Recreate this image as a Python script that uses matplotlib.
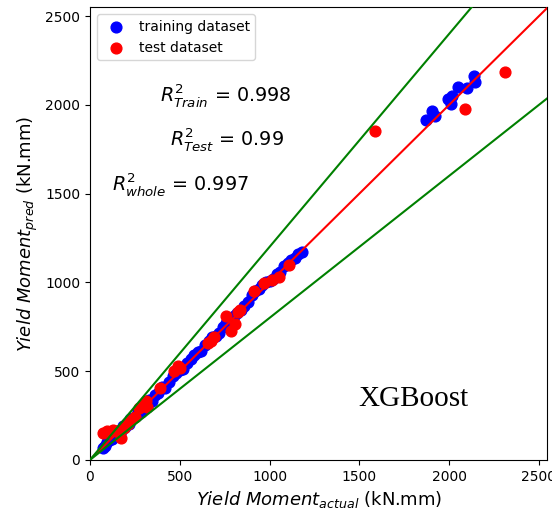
import matplotlib
matplotlib.use("Agg")
import matplotlib.pyplot as plt
import numpy as np

# training dataset (actual, predicted)
train_actual = [70, 85, 95, 105, 115, 125, 135, 145, 155, 165, 175, 185, 195, 205, 215,
                225, 240, 255, 270, 285, 300, 315, 330, 345, 360, 380, 400, 420, 440, 460,
                480, 500, 520, 540, 560, 580, 600, 620, 640, 660, 680, 700, 720, 740, 760,
                780, 800, 820, 840, 860, 880, 900, 920, 940, 960, 980, 1000, 1020, 1040,
                1060, 1080, 1100, 1120, 1140, 1160, 1180,
                1871, 1907, 1922, 1991, 2018, 2013, 2052, 2102, 2139, 2144]
train_pred = [65, 80, 100, 110, 120, 118, 140, 150, 150, 170, 165, 190, 185, 210, 205,
              230, 235, 250, 280, 270, 310, 300, 340, 330, 365, 375, 410, 405, 440, 470,
              490, 505, 510, 545, 570, 590, 605, 615, 650, 670, 690, 700, 715, 750, 770,
              790, 810, 830, 845, 865, 890, 930, 950, 960, 985, 1000, 1010, 1020, 1045,
              1060, 1090, 1110, 1125, 1140, 1160, 1170,
              1913, 1964, 1938, 2031, 2052, 2004, 2102, 2097, 2165, 2131]

# test dataset (actual, predicted)
test_actual = [72, 95, 110, 130, 150, 175, 190, 210, 230, 250, 275, 300, 310, 320, 390,
               470, 490, 500, 655, 675, 690, 760, 787, 806, 825, 835, 915, 970, 1012,
               1055, 1110, 1585, 2090, 2310]
test_pred = [150, 160, 155, 170, 165, 125, 180, 205, 225, 240, 290, 310, 330, 300, 405,
             500, 530, 515, 660, 670, 690, 810, 726, 764, 835, 843, 950, 995, 1014,
             1030, 1097, 1855, 1975, 2185]

lim = 2545
fig = plt.figure(figsize=(5.52, 5.15), dpi=100)
ax = fig.add_axes([0.163, 0.107, 0.828, 0.879])

ax.scatter(train_actual, train_pred, color='blue', s=60, label='training dataset', zorder=2)
ax.scatter(test_actual, test_pred, color='red', s=60, label='test dataset', zorder=3)

xs = np.array([0, lim])
ax.plot(xs, xs, color='red', lw=1.5, zorder=4)
ax.plot(xs, 1.2 * xs, color='green', lw=1.5, zorder=4)
ax.plot(xs, 0.8 * xs, color='green', lw=1.5, zorder=4)

ax.set_xlim(0, lim)
ax.set_ylim(0, 2550)
ax.set_xticks([0, 500, 1000, 1500, 2000, 2500])
ax.set_yticks([0, 500, 1000, 1500, 2000, 2500])
ax.tick_params(labelsize=10)

ax.set_xlabel(r'$Yield\ Moment_{actual}$ (kN.mm)', fontsize=13)
ax.set_ylabel(r'$Yield\ Moment_{pred}$ (kN.mm)', fontsize=13)

ax.text(390, 2055, r'$R^2_{Train}$ = 0.998', fontsize=13.8, va='center')
ax.text(445, 1805, r'$R^2_{Test}$ = 0.99', fontsize=13.8, va='center')
ax.text(122, 1550, r'$R^2_{whole}$ = 0.997', fontsize=13.8, va='center')
ax.text(1495, 345, 'XGBoost', fontsize=21, family='Liberation Serif', va='center')

ax.legend(loc='upper left', fontsize=10, scatterpoints=1, handletextpad=0.6)

fig.savefig('out.png', dpi=100)
